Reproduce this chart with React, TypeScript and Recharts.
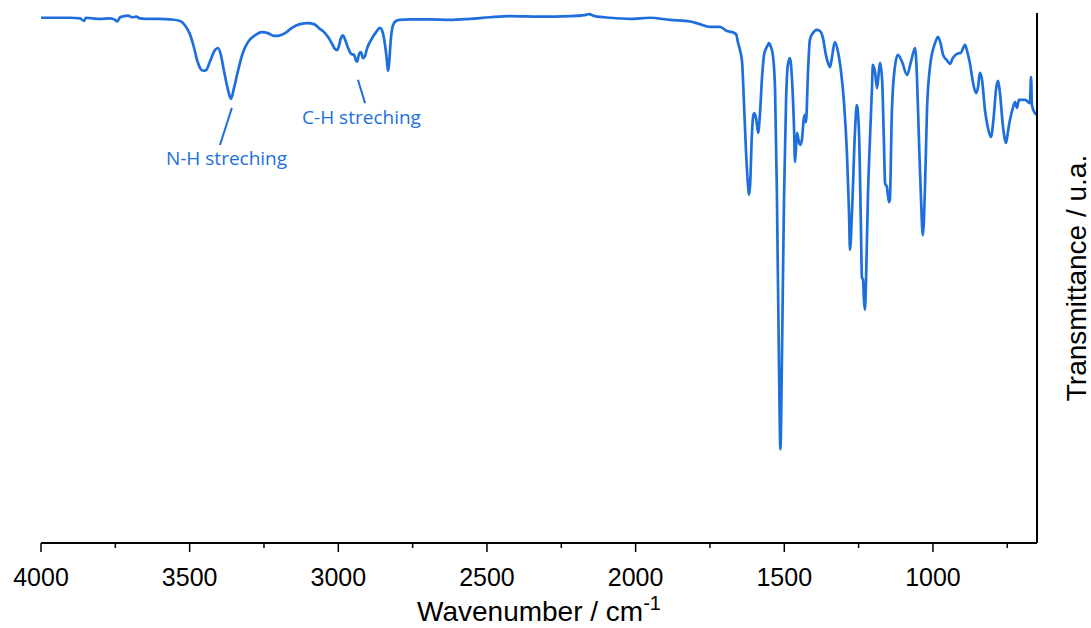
import React from 'react';
import { LineChart, Line, XAxis, YAxis, ReferenceLine, ReferenceDot, Label } from 'recharts';

// FTIR spectrum (transmittance on a 0-100 arbitrary scale)
const WAVENUMBER = [
  4000, 3953, 3902, 3869, 3855, 3849, 3802, 3768, 3751, 3744, 3734, 3721, 3707, 3694, 3680, 3667,
  3633, 3600, 3566, 3532, 3516, 3499, 3485, 3475, 3465, 3455, 3445, 3432, 3415, 3405, 3395, 3385,
  3371, 3361, 3351, 3337, 3321, 3304, 3280, 3257, 3237, 3216, 3203, 3179, 3156, 3129, 3102, 3082,
  3062, 3048, 3035, 3021, 3011, 3004, 2998, 2991, 2984, 2978, 2967, 2957, 2947, 2941, 2937, 2930,
  2924, 2917, 2910, 2904, 2890, 2873, 2860, 2850, 2843, 2836, 2833, 2830, 2823, 2816, 2806, 2793,
  2759, 2692, 2624, 2557, 2490, 2423, 2322, 2221, 2170, 2157, 2137, 2086, 2019, 1952, 1884, 1817,
  1784, 1750, 1716, 1693, 1676, 1662, 1656, 1649, 1642, 1636, 1629, 1622, 1619, 1615, 1609, 1602,
  1595, 1588, 1582, 1575, 1568, 1562, 1555, 1552, 1545, 1538, 1531, 1525, 1518, 1513, 1508, 1501,
  1494, 1488, 1481, 1474, 1467, 1464, 1461, 1457, 1451, 1447, 1441, 1434, 1430, 1427, 1420, 1414,
  1404, 1390, 1380, 1370, 1360, 1353, 1346, 1340, 1330, 1319, 1309, 1299, 1289, 1282, 1279, 1272,
  1262, 1256, 1249, 1242, 1239, 1235, 1232, 1229, 1225, 1219, 1212, 1205, 1202, 1195, 1188, 1182,
  1178, 1171, 1165, 1161, 1155, 1148, 1145, 1138, 1128, 1118, 1104, 1087, 1074, 1060, 1054, 1047,
  1040, 1034, 1027, 1020, 1010, 993, 983, 973, 966, 953, 943, 933, 919, 906, 892, 886,
  876, 865, 855, 849, 842, 835, 825, 815, 805, 795, 788, 781, 775, 765, 754, 748,
  741, 731, 724, 717, 711, 690, 674, 670, 667, 657, 650,
];

const TRANSMITTANCE = [
  99.1, 99.1, 99.1, 99.0, 98.5, 99.1, 98.9, 99.0, 98.7, 98.4, 99.2, 99.4, 99.5, 99.2, 99.3, 99.0,
  98.9, 98.9, 98.8, 98.5, 97.7, 96.0, 93.4, 91.1, 89.6, 89.1, 89.2, 90.8, 93.0, 93.4, 92.1, 89.2,
  85.5, 83.8, 85.8, 89.2, 92.5, 94.5, 95.8, 96.4, 96.2, 95.7, 95.7, 96.2, 97.2, 97.9, 98.1, 97.9,
  97.0, 96.4, 95.5, 94.2, 93.2, 93.0, 93.8, 95.3, 95.8, 95.1, 93.4, 92.3, 92.1, 91.1, 90.8, 92.3,
  92.6, 91.5, 91.9, 93.2, 94.9, 96.4, 97.2, 96.2, 94.0, 90.8, 89.1, 90.0, 95.3, 97.7, 98.5, 98.7,
  98.8, 98.8, 98.7, 98.9, 99.2, 99.4, 99.3, 99.4, 99.6, 99.8, 99.4, 99.1, 98.9, 99.1, 98.7, 98.4,
  97.9, 97.4, 97.4, 96.6, 96.4, 96.0, 94.5, 93.0, 90.8, 83.6, 74.2, 67.5, 65.7, 67.5, 77.0, 81.1,
  80.2, 77.4, 80.8, 87.7, 92.1, 93.2, 94.0, 94.3, 93.6, 91.9, 85.5, 66.6, 34.5, 17.7, 34.5, 64.7,
  83.6, 90.2, 91.5, 87.4, 77.9, 71.9, 74.2, 77.4, 75.7, 75.1, 76.0, 80.2, 80.8, 79.4, 89.2, 94.9,
  96.2, 96.8, 96.6, 95.3, 92.1, 90.6, 89.8, 91.5, 94.5, 92.6, 88.9, 83.0, 73.2, 61.9, 55.3, 62.8,
  77.9, 82.6, 77.9, 59.1, 50.2, 49.6, 45.8, 44.0, 49.6, 64.7, 76.0, 86.0, 90.2, 88.9, 85.8, 88.9,
  90.6, 87.4, 76.0, 67.9, 67.2, 64.3, 64.7, 81.7, 89.8, 92.1, 90.8, 88.3, 90.8, 93.4, 88.3, 76.0,
  64.7, 58.1, 66.6, 81.7, 89.8, 94.3, 95.5, 94.0, 92.1, 91.1, 90.4, 91.5, 92.3, 92.5, 94.0, 93.0,
  90.6, 86.8, 84.9, 85.8, 88.7, 87.4, 81.7, 78.3, 76.6, 80.8, 85.5, 87.2, 85.1, 78.9, 75.5, 77.5,
  79.8, 82.1, 83.2, 82.1, 83.6, 83.6, 83.0, 87.9, 82.6, 81.1, 80.8,
];

const X_TICKS = [4000, 3750, 3500, 3250, 3000, 2750, 2500, 2250, 2000, 1750, 1500, 1250, 1000, 750];
const MAJOR_TICKS = [4000, 3500, 3000, 2500, 2000, 1500, 1000];

const data = WAVENUMBER.map((wn, i) => ({ wn, t: TRANSMITTANCE[i] }));

const BLUE = '#1e6fdc';
const AXIS_FONT = '"Liberation Sans", Arial, sans-serif';

const WaveTick = (props: any) => {
  const { x, y, payload } = props;
  const major = MAJOR_TICKS.includes(payload.value);
  return (
    <g>
      <line x1={x} x2={x} y1={y} y2={y + (major ? 9 : 5)} stroke="#000" strokeWidth={1.5} />
      {major && (
        <text x={x} y={y + 43} textAnchor="middle" fontSize={25} fontFamily={AXIS_FONT} fill="#000">
          {payload.value}
        </text>
      )}
    </g>
  );
};

const XTitle = (props: any) => {
  const { viewBox } = props;
  const cx = viewBox.x + viewBox.width / 2;
  return (
    <text x={cx} y={621} textAnchor="middle" fontSize={28} fontFamily={AXIS_FONT} fill="#000">
      Wavenumber / cm
      <tspan fontSize={20} dy={-11}>-1</tspan>
    </text>
  );
};

const YTitle = (props: any) => {
  const { viewBox } = props;
  const cy = viewBox.y + viewBox.height / 2;
  return (
    <text
      transform={`translate(1086, ${cy}) rotate(-90)`}
      textAnchor="middle"
      fontSize={28}
      fontFamily={AXIS_FONT}
      fill="#000"
    >
      Transmittance / u.a.
    </text>
  );
};

const annotationLabel = (value: string) => ({
  value,
  position: 'center' as const,
  fill: BLUE,
  fontSize: 19,
  fontFamily: '"Open Sans", sans-serif',
});

export default function App() {
  return (
    <div style={{ position: 'absolute', left: 0, top: 0, background: '#fff' }}>
      <LineChart width={1091} height={628} data={data} margin={{ top: 13, right: 0, bottom: 0, left: 41 }}>
        <XAxis
          dataKey="wn"
          type="number"
          domain={[650, 4000]}
          reversed
          ticks={X_TICKS}
          interval={0}
          tick={<WaveTick />}
          tickLine={false}
          tickSize={0}
          tickMargin={0}
          axisLine={{ stroke: '#000', strokeWidth: 2 }}
          height={85}
        >
          <Label content={<XTitle />} />
        </XAxis>
        <YAxis
          orientation="right"
          type="number"
          domain={[0, 100]}
          tick={false}
          tickLine={false}
          axisLine={{ stroke: '#000', strokeWidth: 2 }}
          width={54}
        >
          <Label content={<YTitle />} />
        </YAxis>
        <Line
          type="monotone"
          dataKey="t"
          stroke={BLUE}
          strokeWidth={2.7}
          dot={false}
          isAnimationActive={false}
        />
        <ReferenceLine segment={[{ x: 3358, y: 82.1 }, { x: 3398, y: 75.1 }]} stroke={BLUE} strokeWidth={2} />
        <ReferenceLine segment={[{ x: 2934, y: 87.4 }, { x: 2910, y: 83.0 }]} stroke={BLUE} strokeWidth={2} />
        <ReferenceDot x={3376} y={72.6} r={0} fill="none" stroke="none" label={annotationLabel('N-H streching')} />
        <ReferenceDot x={2922} y={80.4} r={0} fill="none" stroke="none" label={annotationLabel('C-H streching')} />
      </LineChart>
    </div>
  );
}
